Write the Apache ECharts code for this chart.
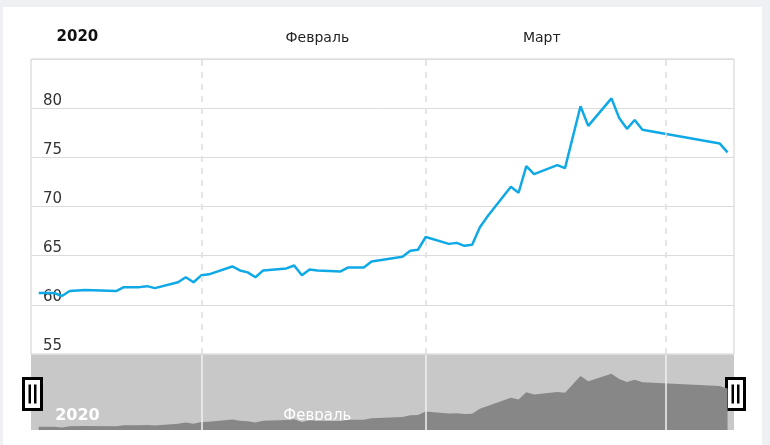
<!DOCTYPE html>
<html>
<head>
<meta charset="utf-8">
<script src="https://cdn.jsdelivr.net/npm/echarts@6/dist/echarts.min.js"></script>
<style>
  html, body { margin: 0; padding: 0; background: #eef0f4; width: 770px; height: 445px; overflow: hidden; }
  #chart { position: absolute; left: 3px; top: 7px; width: 759px; height: 438px; background: #fff; }
</style>
</head>
<body>
<div id="chart"></div>
<script>
// даты и значения
var dates = ['2020-01-11','2020-01-13','2020-01-14','2020-01-15','2020-01-17','2020-01-21','2020-01-22','2020-01-24',
  '2020-01-25','2020-01-26','2020-01-29','2020-01-30','2020-01-31','2020-02-01','2020-02-02','2020-02-05','2020-02-06',
  '2020-02-07','2020-02-08','2020-02-09','2020-02-12','2020-02-13','2020-02-14','2020-02-15','2020-02-16','2020-02-19',
  '2020-02-20','2020-02-22','2020-02-23','2020-02-27','2020-02-28','2020-02-29','2020-03-01','2020-03-04','2020-03-05',
  '2020-03-06','2020-03-07','2020-03-08','2020-03-09','2020-03-12','2020-03-13','2020-03-14','2020-03-15','2020-03-18',
  '2020-03-19','2020-03-21','2020-03-22','2020-03-25','2020-03-26','2020-03-27','2020-03-28','2020-03-29','2020-04-08',
  '2020-04-09'];
var values = [61.2,61.2,60.9,61.4,61.5,61.4,61.8,61.8,
  61.9,61.7,62.3,62.8,62.3,63.0,63.1,63.9,63.5,
  63.3,62.8,63.5,63.7,64.0,63.0,63.6,63.5,63.4,
  63.8,63.8,64.4,64.9,65.5,65.6,66.9,66.2,66.3,
  66.0,66.1,67.9,69.0,72.0,71.4,74.1,73.3,74.2,
  73.9,80.2,78.2,81.0,79.0,77.9,78.8,77.8,76.4,
  75.5];
var monthStarts = ['2020-02-01','2020-03-01','2020-04-01'];
var labelDays = ['2020-01-16','2020-02-16','2020-03-16'];
var labelNames = ['2020','Февраль','Март'];

var xMin = +new Date('2020-01-10T00:00:00');
var xMax = +new Date('2020-04-09T20:00:00');
var ts = function (d) { return +new Date(d + 'T00:00:00'); };
var points = dates.map(function (d, i) { return [ts(d), values[i]]; });
var labelTs = labelDays.map(ts);
function monthName(v) {
  var i = labelTs.indexOf(v);
  if (i === 0) return '{b|' + labelNames[0] + '}';
  return i > 0 ? labelNames[i] : '';
}

var myChart = echarts.init(document.getElementById('chart'));

var option = {
  animation: false,
  textStyle: { fontFamily: 'DejaVu Sans' },
  grid: [
    { left: 28, top: 52, width: 703, height: 295, show: true, borderColor: '#d0d0d0', borderWidth: 1 },
    { left: 28, top: 348, width: 703, height: 75, show: true, backgroundColor: '#c8c8c8', borderWidth: 0 }
  ],
  xAxis: [
    {
      type: 'value', gridIndex: 0, position: 'top', min: xMin, max: xMax,
      axisLine: { show: false }, axisTick: { show: false }, splitLine: { show: false },
      axisLabel: {
        customValues: labelTs, margin: 14, fontSize: 14, color: '#222',
        formatter: monthName,
        rich: { b: { fontWeight: 'bold', fontSize: 15, color: '#111' } }
      }
    },
    {
      type: 'value', gridIndex: 1, min: xMin, max: xMax,
      axisLine: { show: false }, axisTick: { show: false }, splitLine: { show: false },
      axisLabel: {
        inside: true, customValues: labelTs, margin: 6, fontSize: 15, color: '#fff',
        formatter: monthName,
        rich: { b: { fontWeight: 'bold', fontSize: 16, color: '#fff' } }
      }
    }
  ],
  yAxis: [
    {
      type: 'value', gridIndex: 0, min: 55, max: 85, interval: 5,
      axisLine: { show: false }, axisTick: { show: false },
      splitLine: { lineStyle: { color: '#dcdcdc' } },
      axisLabel: {
        inside: true, margin: 12, verticalAlign: 'bottom', fontSize: 15, color: '#333',
        formatter: function (v) { return v === 85 ? '' : v; }
      }
    },
    { type: 'value', gridIndex: 1, min: 60, max: 88, show: false }
  ],
  series: [
    {
      type: 'line', xAxisIndex: 0, yAxisIndex: 0, data: points, symbol: 'none',
      lineStyle: { color: '#0fa9e6', width: 2.5 },
      markLine: {
        silent: true, symbol: 'none', label: { show: false },
        lineStyle: { color: '#dedede', type: [6, 6], width: 1.5 },
        data: monthStarts.map(function (d) { return { xAxis: ts(d) }; })
      }
    },
    {
      type: 'line', xAxisIndex: 1, yAxisIndex: 1, data: points, symbol: 'none',
      lineStyle: { width: 0 }, areaStyle: { color: '#878787', opacity: 1 },
      markLine: {
        silent: true, symbol: 'none', label: { show: false },
        lineStyle: { color: '#f2f2f2', type: 'solid', width: 1.5 },
        data: monthStarts.map(function (d) { return { xAxis: ts(d) }; })
      }
    }
  ],
  graphic: [19, 722].map(function (x) {
    return {
      type: 'group', left: x, top: 370, z: 100,
      children: [
        { type: 'rect', shape: { x: 0, y: 0, width: 18, height: 31 }, style: { fill: '#fff', stroke: '#000', lineWidth: 3 } },
        { type: 'rect', shape: { x: 5, y: 6, width: 2.5, height: 19 }, style: { fill: '#000' } },
        { type: 'rect', shape: { x: 10.5, y: 6, width: 2.5, height: 19 }, style: { fill: '#000' } }
      ]
    };
  })
};

myChart.setOption(option);
</script>
</body>
</html>
